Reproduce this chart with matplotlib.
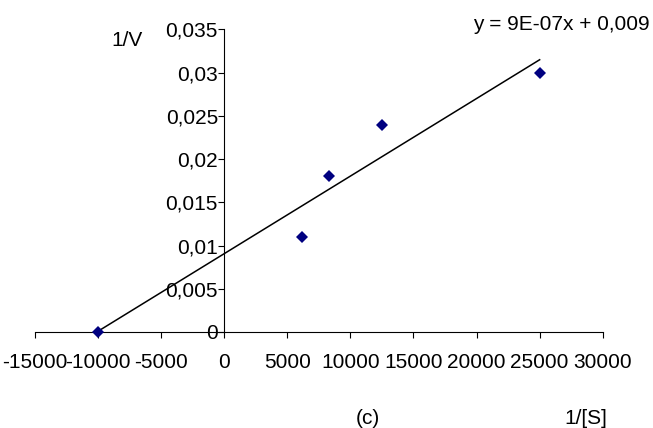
import matplotlib
matplotlib.use("Agg")
import matplotlib.pyplot as plt
from matplotlib.ticker import FuncFormatter
import numpy as np

plt.rcParams["font.family"] = ["Liberation Sans", "DejaVu Sans"]

# data
inv_s = [-10000, 6150, 8333, 12500, 25000]
inv_v = [0.0, 0.011, 0.018, 0.024, 0.030]
x_ticks = [-15000, -10000, -5000, 0, 5000, 10000, 15000, 20000, 25000, 30000]
y_ticks = [0, 0.005, 0.01, 0.015, 0.02, 0.025, 0.03, 0.035]
equation = "y = 9E-07x + 0,009"

fs = 15

fig = plt.figure(figsize=(6.53, 4.28), dpi=100)
ax = fig.add_axes([0.0536, 0.2243, 0.8694, 0.7068])

# linear trendline over the data range
slope, intercept = np.polyfit(inv_s, inv_v, 1)
xs = np.array([min(inv_s), max(inv_s)])
ax.plot(xs, slope * xs + intercept, color="black", linewidth=1.1, zorder=2)

ax.plot(inv_s, inv_v, linestyle="none", marker="D", markersize=6.6,
        color="#000080", markeredgewidth=0, zorder=3, clip_on=False)

ax.set_xlim(-15000, 30000)
ax.set_ylim(0, 0.035)
ax.set_xticks(x_ticks)
ax.set_yticks(y_ticks)
ax.yaxis.set_major_formatter(FuncFormatter(lambda v, p: f"{v:g}".replace(".", ",")))
ax.xaxis.set_major_formatter(FuncFormatter(lambda v, p: f"{int(v)}"))

ax.spines["left"].set_position(("data", 0))
ax.spines["top"].set_visible(False)
ax.spines["right"].set_visible(False)
for s in ("left", "bottom"):
    ax.spines[s].set_linewidth(0.8)
    ax.spines[s].set_color("black")

ax.tick_params(axis="x", direction="out", length=4, width=0.8, pad=11, labelsize=fs)
ax.tick_params(axis="y", direction="out", length=4, width=0.8, pad=0.5, labelsize=fs)
ax.patch.set_visible(False)

fig.text(126.7 / 653, 1 - 40 / 428, "1/V", ha="center", va="center", fontsize=fs)
fig.text(650 / 653, 1 - 25 / 428, equation, ha="right", va="center", fontsize=fs)
fig.text(367.5 / 653, 1 - 419 / 428, "(c)", ha="center", va="center", fontsize=fs)
fig.text(585.5 / 653, 1 - 419 / 428, "1/[S]", ha="center", va="center", fontsize=fs)

fig.savefig("out.png", dpi=100)
plt.close(fig)
